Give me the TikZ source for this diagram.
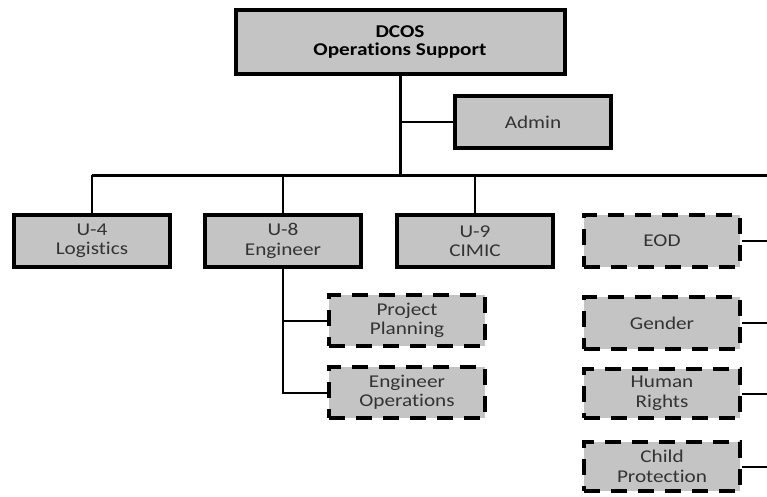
\documentclass[tikz,border=0pt]{standalone}
\usepackage{fontspec}
\setmainfont{Carlito}[FakeStretch=1.18,Ligatures=NoCommon]
\usetikzlibrary{positioning}
\definecolor{boxgray}{HTML}{C4C4C4}
\definecolor{textgray}{HTML}{333333}

\begin{document}
\begin{tikzpicture}[x=1pt, y=-1pt,
  unit/.style={rectangle,draw,line width=4pt,fill=boxgray,text=textgray,minimum width=156pt,minimum height=52pt,align=center,font=\fontsize{18}{19.5}\selectfont},
  cell/.style={unit,dashed,dash pattern=on 16pt off 11pt},
  link/.style={line width=2pt},
  trunk/.style={line width=3pt},]
\useasboundingbox (0,0) rectangle (767,497);

\node[unit,minimum width=329pt,minimum height=64pt,text=black,font=\bfseries\fontsize{18}{18}\selectfont] (DCOS) at (400,42) {DCOS\\Operations Support};
\node[unit] (Admin) at (533,122.5) {Admin};
%
\node[unit] (U4)  at (92,241)          {U-4\\Logistics};
\node[unit] (U8)  [right=31pt of U4]   {U-8\\Engineer};
\node[unit] (U9)  [right=32pt of U8]   {U-9\\CIMIC};
\node[cell] (EOD) [right=27pt of U9]   {EOD};
%
\node[cell,minimum height=51pt] (PP) at (407,320.5)  {Project\\Planning};
\node[cell,minimum height=51pt] (EO) [below=17pt of PP] {Engineer\\Operations};
%
\node[cell] (Gender) [below=26pt of EOD]    {Gender};
\node[cell,minimum height=49pt] (HR) [below=16pt of Gender] {Human\\Rights};
\node[cell,minimum height=49pt] (CP) [below=20pt of HR]     {Child\\Protection};

\coordinate (bus) at (400,175);
\coordinate (busL) at (U4.north |- bus);
\coordinate (busR) at (767,175);
\coordinate (edge) at (767,0);

\draw[trunk] (DCOS.south) -- (bus);
\draw[link] (DCOS.south |- Admin.west) -- (Admin.west);
\draw[trunk] (busL) -- (busR);
\draw[link] (busL) -- (U4.north);
\draw[link] (U8.north |- bus) -- (U8.north);
\draw[link] (U9.north |- bus) -- (U9.north);
\draw[link] (U8.south) |- (EO.west);
\draw[link] (U8.south |- PP.west) -- (PP.west);
\draw[link] (EOD.east) -- (EOD.east -| edge);
\draw[link] (Gender.east) -- (Gender.east -| edge);
\draw[link] (HR.east) -- (HR.east -| edge);
\draw[link] (CP.east) -- (CP.east -| edge);

\end{tikzpicture}
\end{document}
